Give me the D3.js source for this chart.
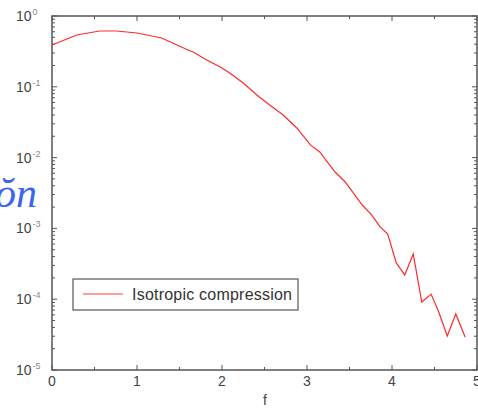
<!DOCTYPE html>
<html>
<head>
<meta charset="utf-8">
<script src="https://cdn.jsdelivr.net/npm/d3@7"></script>
<style>
  body { margin: 0; background: #fff; }
  svg { display: block; }
</style>
</head>
<body>
<svg id="chart"></svg>
<script>
// values
const fValues = [0, 0.29, 0.56, 0.76, 1.0, 1.29, 1.6, 1.66, 1.82, 1.98, 2.09, 2.25, 2.41, 2.56, 2.72, 2.88,
  3.04, 3.15, 3.33, 3.45, 3.65, 3.76, 3.86, 3.95, 4.05, 4.15, 4.25, 4.35, 4.46, 4.55, 4.65, 4.75, 4.86];
const pValues = [0.389, 0.539, 0.614, 0.614, 0.575, 0.489, 0.331, 0.31, 0.239, 0.19, 0.157, 0.113, 0.0766,
  0.0553, 0.04, 0.0262, 0.0151, 0.012, 0.00626, 0.00452, 0.00214, 0.00155, 0.00105, 0.000834,
  0.000325, 0.00022, 0.000435, 0.0000912, 0.000118, 0.0000659, 0.0000302, 0.0000618, 0.0000292];
const xTicks = [0, 1, 2, 3, 4, 5];
const yExponents = [0, -1, -2, -3, -4, -5];
const seriesName = "Isotropic compression";

const W = 478, H = 409;
const svg = d3.select("#chart").attr("width", W).attr("height", H);
const axisColor = "#555";
const textColor = "#444";

const x = d3.scaleLinear().domain([0, 5]).range([52, 477]);
const y = d3.scaleLog().domain([1e-5, 1]).range([370, 16]);

// stray slide text on the left, partly cut by the edge
svg.append("text")
  .attr("x", -5)
  .attr("y", 207)
  .attr("font-family", "Liberation Serif")
  .attr("font-style", "italic")
  .attr("font-size", 42)
  .attr("fill", "#3a66f0")
  .text("ŏn");

const halfTicks = d3.range(0, 5.01, 0.5);
const minorY = [];
yExponents.slice(1).forEach(e => {
  for (let k = 2; k <= 9; k++) minorY.push(k * Math.pow(10, e));
});

const g = svg.append("g");

halfTicks.forEach(t => {
  const len = Number.isInteger(t) ? 5 : 3;
  g.append("line").attr("x1", x(t)).attr("x2", x(t))
    .attr("y1", y(1e-5)).attr("y2", y(1e-5) - len)
    .attr("stroke", axisColor).attr("stroke-width", 1);
  g.append("line").attr("x1", x(t)).attr("x2", x(t))
    .attr("y1", y(1)).attr("y2", y(1) + len)
    .attr("stroke", axisColor).attr("stroke-width", 1);
});

minorY.forEach(v => {
  [[x(0), 3], [x(5), -3]].forEach(([px, d]) => {
    g.append("line").attr("x1", px).attr("x2", px + d)
      .attr("y1", y(v)).attr("y2", y(v))
      .attr("stroke", axisColor).attr("stroke-width", 1);
  });
});
yExponents.forEach(e => {
  const v = Math.pow(10, e);
  [[x(0), 5], [x(5), -5]].forEach(([px, d]) => {
    g.append("line").attr("x1", px).attr("x2", px + d)
      .attr("y1", y(v)).attr("y2", y(v))
      .attr("stroke", axisColor).attr("stroke-width", 1);
  });
});

// frame
svg.append("rect")
  .attr("x", x(0)).attr("y", y(1))
  .attr("width", x(5) - x(0)).attr("height", y(1e-5) - y(1))
  .attr("fill", "none").attr("stroke", axisColor).attr("stroke-width", 1.5);

// x tick labels
svg.selectAll(".xlab").data(xTicks).enter().append("text")
  .attr("class", "xlab")
  .attr("x", d => x(d)).attr("y", 386)
  .attr("text-anchor", "middle")
  .attr("font-family", "Liberation Sans").attr("font-size", 14)
  .attr("fill", textColor)
  .text(d => d);

svg.append("text")
  .attr("x", 265).attr("y", 405)
  .attr("text-anchor", "middle")
  .attr("font-family", "Liberation Sans").attr("font-size", 14)
  .attr("fill", textColor)
  .text("f");

// y tick labels: 10 with superscript exponent
yExponents.forEach(e => {
  const t = svg.append("text")
    .attr("x", 16).attr("y", y(Math.pow(10, e)) + 5)
    .attr("font-family", "Liberation Sans").attr("font-size", 14)
    .attr("fill", textColor);
  t.append("tspan").text("10");
  t.append("tspan").attr("dx", 1).attr("dy", -6).attr("font-size", 9)
    .attr("fill", "#888").text(e === 0 ? "0" : "-" + Math.abs(e));
});

// data line
const line = d3.line().x(d => x(d[0])).y(d => y(d[1]));
svg.append("path")
  .datum(fValues.map((f, i) => [f, pValues[i]]))
  .attr("d", line)
  .attr("fill", "none")
  .attr("stroke", "#ff2a2a")
  .attr("stroke-width", 1.2);

// legend
const lg = svg.append("g");
lg.append("rect").attr("x", 73).attr("y", 279).attr("width", 225).attr("height", 31)
  .attr("fill", "#fff").attr("stroke", axisColor).attr("stroke-width", 1.2);
lg.append("line").attr("x1", 83).attr("x2", 123).attr("y1", 294).attr("y2", 294)
  .attr("stroke", "#ff7c7c").attr("stroke-width", 1.5);
lg.append("text").attr("x", 132).attr("y", 300)
  .attr("font-family", "Liberation Sans").attr("font-size", 16)
  .attr("textLength", 160)
  .attr("fill", "#333").text(seriesName);
</script>
</body>
</html>
